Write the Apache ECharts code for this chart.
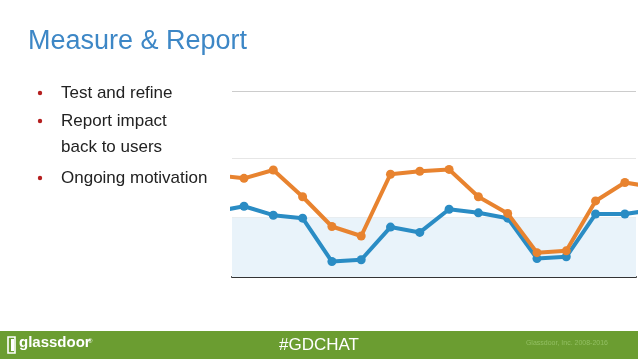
<!DOCTYPE html>
<html>
<head>
<meta charset="utf-8">
<script src="https://cdn.jsdelivr.net/npm/echarts@6/dist/echarts.min.js"></script>
<style>
html,body{margin:0;padding:0;background:#fff;}
#c{width:638px;height:359px;}
</style>
</head>
<body>
<div id="c"></div>
<script>
// Period index (-1 and 14 are partially visible at the chart edges)
const periods = [-1,0,1,2,3,4,5,6,7,8,9,10,11,12,13,14];
const orangeValues = [172,166,180,135,85,69,173,178,181,135,107,41,44,128,159,151];
const blueValues   = [110,119,104,99,26,29,84,75,114,108,99,31,34,106,106,113];
const bandRange = [0,100];
const bullets = ["Test and refine","Report impact","back to users","Ongoing motivation"];
const bulletMarks = [true,true,false,true];

const chart = echarts.init(document.getElementById('c'), null, {renderer:'canvas'});
const toPairs = vals => vals.map((v,i)=>[periods[i], v]);

const FONT = '"Liberation Sans", Arial, sans-serif';
const bulletY = [93,121,147,178];
const graphics = [];
bullets.forEach((t,i)=>{
  graphics.push({type:'text', left:61, top:bulletY[i]-8, style:{text:t, font:'17px '+FONT, fill:'#222'}});
  if(bulletMarks[i]) graphics.push({type:'circle', shape:{cx:40, cy:bulletY[i], r:2.2}, style:{fill:'#b51f1f'}});
});
// footer
graphics.push({type:'rect', shape:{x:0,y:331,width:638,height:28}, style:{fill:'#6b9d31'}, z:-1});
graphics.push({type:'text', left:'center', top:337, style:{text:'#GDCHAT', font:'17px '+FONT, fill:'#ffffff'}});
graphics.push({type:'text', right:30, top:340, style:{text:'Glassdoor, Inc. 2008-2016', font:'7px '+FONT, fill:'#93bf63'}});
graphics.push({type:'rect', shape:{x:8,y:337,width:7,height:16}, style:{fill:'none', stroke:'#fff', lineWidth:1.6}});
graphics.push({type:'rect', shape:{x:11,y:339,width:3,height:12}, style:{fill:'#fff'}});
graphics.push({type:'text', left:19, top:335, style:{text:'glassdoor', font:'bold 15px '+FONT, fill:'#fff'}});
graphics.push({type:'text', left:88, top:338, style:{text:'®', font:'6px '+FONT, fill:'#fff'}});

chart.setOption({
  animation:false,
  title:{text:'Measure & Report', left:23, top:23, textStyle:{fontFamily:FONT, fontSize:27, fontWeight:'normal', color:'#3d87c6'}},
  grid:{left:232, right:2, top:91, bottom:82},
  xAxis:{type:'value', min:-0.41, max:13.38,
    axisLine:{show:true, onZero:false, lineStyle:{color:'#333', width:2}},
    axisTick:{show:false}, axisLabel:{show:false}, splitLine:{show:false}},
  yAxis:{type:'value', min:0, max:313, interval:100,
    axisLine:{show:false}, axisTick:{show:false}, axisLabel:{show:false},
    splitLine:{show:true, lineStyle:{color:['rgba(0,0,0,0)','#e6e6e6','#e6e6e6','rgba(0,0,0,0)','#cccccc'], width:1}}},
  series:[
    {type:'line', data:toPairs(blueValues), symbol:'circle', symbolSize:9, showSymbol:true,
     lineStyle:{color:'#2a8cc4', width:4}, itemStyle:{color:'#2a8cc4'}, z:2,
     markArea:{silent:true, itemStyle:{color:'#e9f3fa'}, data:[[{yAxis:bandRange[0]},{yAxis:bandRange[1]}]]}},
    {type:'line', data:toPairs(orangeValues), symbol:'circle', symbolSize:9, showSymbol:true,
     lineStyle:{color:'#e8832f', width:4}, itemStyle:{color:'#e8832f'}, z:3}
  ],
  graphic:graphics
});
</script>
</body>
</html>
